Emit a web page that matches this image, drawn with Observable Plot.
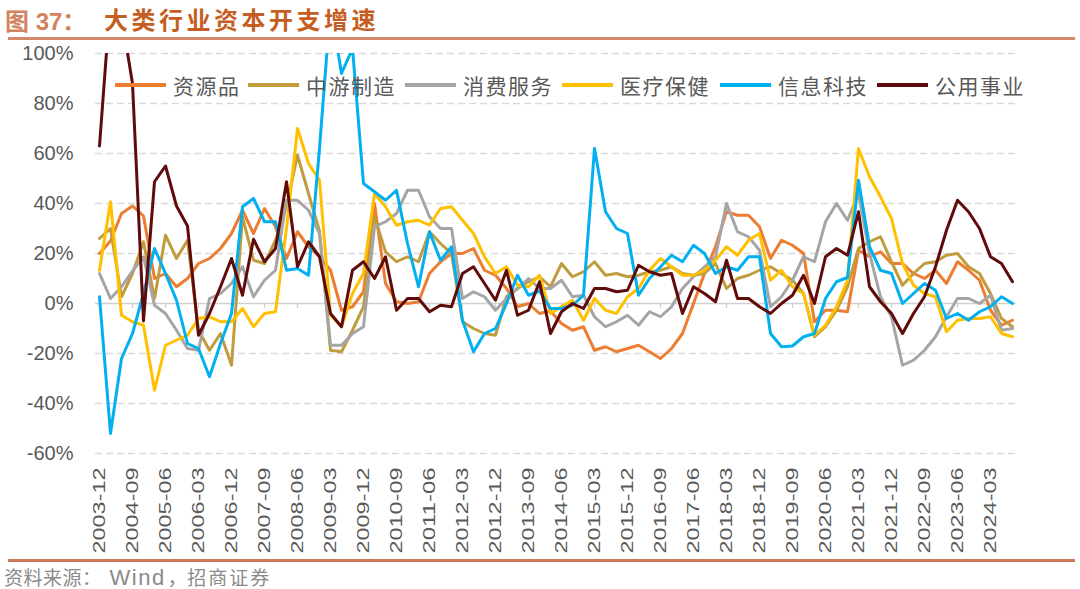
<!DOCTYPE html>
<html>
<head>
<meta charset="utf-8">
<script src="https://cdn.jsdelivr.net/npm/d3@7"></script>
<script src="https://cdn.jsdelivr.net/npm/@observablehq/plot@0.6"></script>
<style>
  body { margin: 0; background: #fff; }
  #wrap { position: relative; width: 1080px; height: 589px; overflow: hidden; background: #fff; }
  #chart { position: absolute; left: 0; top: 0; }
  .title1 { position: absolute; left: 5px; top: 2px; font: bold 24px "Liberation Sans", "Noto Sans CJK SC", sans-serif; color: #D3825E; white-space: nowrap; }
  .title2 { position: absolute; left: 104px; top: 1px; font: bold 24px "Noto Sans CJK SC", sans-serif; letter-spacing: 3.5px; color: #C55E22; white-space: nowrap; }
  .rule-top { position: absolute; left: 8px; top: 37px; width: 1067px; height: 3px; background: #D4876A; }
  .rule-bottom { position: absolute; left: 8px; top: 559px; width: 1067px; height: 3px; background: #CC7A5A; }
  .source { position: absolute; left: 4px; top: 566px; height: 23px; line-height: 22px; font-size: 19px; font-family: "Noto Sans CJK SC", sans-serif; letter-spacing: 0.5px; color: #8A8A8A; white-space: nowrap; }
  .source .w { font-size: 22px; font-family: "Liberation Sans", Arial, sans-serif; letter-spacing: 1.5px; margin: 0 2px 0 8px; }
  .source .z { letter-spacing: 2px; }
  .leg { position: absolute; top: 72px; height: 26px; display: flex; align-items: center; white-space: nowrap; }
  .leg .sw { width: 51px; height: 4px; margin-right: 7px; }
  .leg .tx { font: 21px "Noto Sans CJK SC", sans-serif; letter-spacing: 1.5px; color: #595959; }
</style>
</head>
<body>
<div id="wrap">
  <div class="title1">图 37：</div>
  <div class="title2">大类行业资本开支增速</div>
  <div class="rule-top"></div>
  <div id="chart"></div>
  <div id="legend"></div>
  <div class="rule-bottom"></div>
  <div class="source">资料来源：<span class="w">Wind</span>，<span class="z">招商证券</span></div>
</div>
<script>
const quarters = [
  "2003-12",
  "2004-03","2004-06","2004-09","2004-12",
  "2005-03","2005-06","2005-09","2005-12",
  "2006-03","2006-06","2006-09","2006-12",
  "2007-03","2007-06","2007-09","2007-12",
  "2008-03","2008-06","2008-09","2008-12",
  "2009-03","2009-06","2009-09","2009-12",
  "2010-03","2010-06","2010-09","2010-12",
  "2011-03","2011-06","2011-09","2011-12",
  "2012-03","2012-06","2012-09","2012-12",
  "2013-03","2013-06","2013-09","2013-12",
  "2014-03","2014-06","2014-09","2014-12",
  "2015-03","2015-06","2015-09","2015-12",
  "2016-03","2016-06","2016-09","2016-12",
  "2017-03","2017-06","2017-09","2017-12",
  "2018-03","2018-06","2018-09","2018-12",
  "2019-03","2019-06","2019-09","2019-12",
  "2020-03","2020-06","2020-09","2020-12",
  "2021-03","2021-06","2021-09","2021-12",
  "2022-03","2022-06","2022-09","2022-12",
  "2023-03","2023-06","2023-09","2023-12",
  "2024-03","2024-06","2024-09"
];

const tickLabels = [
  "2003-12","2004-09","2005-06","2006-03","2006-12","2007-09","2008-06",
  "2009-03","2009-12","2010-09","2011-06","2012-03","2012-12","2013-09",
  "2014-06","2015-03","2015-12","2016-09","2017-06","2018-03","2018-12",
  "2019-09","2020-06","2021-03","2021-12","2022-09","2023-06","2024-03"
];

const yTicks = [-60, -40, -20, 0, 20, 40, 60, 80, 100];

const seriesNames = ["资源品", "中游制造", "消费服务", "医疗保健", "信息科技", "公用事业"];
const seriesColors = ["#ED7D31", "#C19C3F", "#A5A5A5", "#FFC000", "#00B0F0", "#600A0A"];

// 资源品
const resources = [
  20, 25, 36, 39, 35, 10, 12, 6.7, 10, 16, 18, 22,
  28, 37.3, 28, 38, 30.7, 18, 28.7, 22.7, 18.7, 13.3, -2.7, -1.3,
  4.7, 40, 8, 0.7, 0, 0.7, 12, 16.7, 20, 20, 22, 13.3,
  11.3, 6, -1.3, 0, -4, -3, -8, -10.7, -9.3, -18.7, -17.3, -19.3,
  -18, -16.7, -19.3, -22, -18, -12, 0, 12, 22.7, 36.7, 35.3, 35.3,
  30.7, 18, 25.3, 23.3, 20, -7.3, -2.7, -2.7, -3.3, 21.3, 18.7, 20.7,
  16, 16, 12, 10, 13.3, 8, 16.7, 13.3, 9.3, -2.7, -8.7, -6.7
];
// 中游制造
const midstream = [
  26, 30, 2.7, 12, 24.7, 2, 27.3, 18, 25.3, -10.7, -18.7, -12,
  -24.7, 34.7, 17.3, 16, 25.3, 38.7, 59.3, 44, 29, -18.7, -19.3, -10.7,
  -1.3, 34.7, 20.7, 16.7, 18.7, 16.7, 28.7, 24, 20, -7.3, -10, -12,
  -12.7, 2.7, 6, 8.7, 10.7, 6.7, 16, 10.7, 12.7, 16.7, 11.3, 12,
  10.7, 11.3, 12.7, 13.3, 14.7, 12, 11.3, 12, 16, 6, 10, 11.3,
  13.3, 14.7, 12, 9.3, 4, -13.3, -9.3, -2.7, 6.7, 22, 24.7, 26.7,
  16.7, 7.3, 12, 16, 16.7, 19.3, 20, 14.7, 12, 4, -6, -9.3
];
// 消费服务
const consumer = [
  12, 2, 6.7, 13, 18.7, -0.7, -4, -10.7, -18, -18.7, 2, 4,
  8, 14.7, 2.7, 9.3, 13.3, 41.3, 41.3, 37.3, 28, -16.7, -16.7, -12,
  -9.3, 30.7, 32.7, 36, 45.3, 45.3, 34.7, 30, 30, 2, 4.7, 2.7,
  -2.7, 2, 6, 10, 6, 6, 9.3, 2.7, 3.3, -5.3, -9.3, -7.3,
  -4.7, -8.7, -3.3, -5.3, -1.3, 6, 10.7, 14.7, 18.7, 40, 28.7, 26.7,
  21.3, -1.3, 2.7, 9.3, 18.7, 16.7, 32.7, 40, 33.3, 44, 20, 2.7,
  -5.3, -24.7, -22.7, -18.7, -13.3, -5.3, 2, 2, 0, 3.3, -10.7, -10
];
// 医疗保健
const healthcare = [
  13.3, 40.7, -4.7, -7.3, -8.7, -34.7, -16.7, -14.7, -12.7, -6, -5.3, -7.3,
  -7.3, -2, -9.3, -4, -3.3, 30, 70, 56, 49.3, -4.7, -9.3, 4,
  12, 44, 38.7, 31.3, 32.7, 33.3, 31.3, 38, 38.7, 33.3, 28, 18.7,
  12, 14.7, 7.3, 6.7, 11.3, -4, -1.3, 1.3, -6.7, 2, -2.7, -4,
  2.7, 6, 13.3, 18, 14.7, 11.3, 11.3, 13.3, 17.3, 22.7, 19.3, 25.3,
  28, 9.3, 13.3, 6.7, 4, -12.7, -8.7, -1.3, 9.3, 62, 50.7, 42.7,
  34, 16, 7.3, 4, 2.7, -11.3, -6.7, -6, -6, -5.3, -12, -13.3
];
// 信息科技
const infotech = [
  2.7, -52, -22, -12, 4, 22, 12, 1.3, -16, -18, -29.3, -16,
  -4, 38.7, 42, 32.7, 32.7, 13.3, 14, 11.3, 62, 119, 92, 102,
  48, 44.7, 41.3, 45.3, 24, 6.7, 28.7, 17.3, 22.7, -6.7, -19.3, -12,
  -10, 0, 11.3, 3.3, 5, -2, -2, -0.7, 3.3, 62, 36.7, 30,
  28, 3.3, 10, 14.7, 19.3, 16.7, 23.3, 20, 12, 14.7, 13.3, 18.7,
  18.7, -12, -17.3, -17, -13.3, -12, 2, 8.7, 10.4, 49.3, 22.7, 13.3,
  12, 0, 4, 8, 5.3, -6, -4, -6.7, -3.3, -1.3, 2.7, 0
];
// 公用事业
const utilities = [
  63, 122, 115, 88, -7, 48.7, 55, 39, 31, -12.7, -4, 6.7,
  18, 3.3, 25.7, 16.7, 22, 48.7, 14.7, 24.7, 18.7, -4, -9.3, 13.3,
  16.7, 10, 18.7, -2.7, 2, 2, -3.3, -0.7, -1.3, 12, 14.7, 8,
  1.3, 13.3, -4.7, -2.7, 8.7, -12, -3.3, 0, -2, 6, 6, 4.7,
  5.3, 15.3, 12.7, 11.3, 12, -4, 6.7, 4, 0.7, 17.3, 2, 2,
  -1.3, -4, 0, 3.3, 11.3, 0, 18.7, 22, 19.3, 36.7, 6.7, 0.7,
  -4, -12, -4, 2.7, 14.7, 29.3, 41.3, 36.7, 30, 18.7, 16, 8.7
];

const seriesValues = [resources, midstream, consumer, healthcare, infotech, utilities];

const data = seriesNames.flatMap((name, k) =>
  seriesValues[k].map((v, i) => ({q: quarters[i], v, s: name}))
);

const gridVals = yTicks.filter(d => d !== 0);

const chart = Plot.plot({
  width: 1080,
  height: 560,
  marginTop: 53,
  marginBottom: 107,
  marginLeft: 95,
  marginRight: 64,
  style: {fontFamily: "'Liberation Sans', Arial, sans-serif", background: "transparent"},
  x: {type: "point", domain: quarters, padding: 0, label: null},
  y: {domain: [-60, 100], label: null},
  color: {domain: seriesNames, range: seriesColors},
  marks: [
    Plot.ruleY(gridVals, {stroke: "#D9D9D9", strokeWidth: 1.6, strokeDasharray: "7,4"}),
    Plot.ruleY([0], {stroke: "#D0D0D0", strokeWidth: 1.6}),
    Plot.ruleX(tickLabels, {x: d => d, y1: 0, y2: -2, stroke: "#D0D0D0", strokeWidth: 1.2}),
    Plot.axisY(yTicks, {label: null, tickSize: 0, tickPadding: 22, tickFormat: d => d + "%", fontSize: 20, fill: "#595959"}),
    Plot.axisX({label: null, ticks: tickLabels, tickSize: 0, tickRotate: -90, tickPadding: 14, fontSize: 17, fill: "#595959"}),
    Plot.line(data, {x: "q", y: "v", z: "s", stroke: "s", strokeWidth: 3, clip: true, strokeLinejoin: "round"})
  ]
});

d3.select(chart).selectAll('g[aria-label="x-axis tick label"] text')
  .attr("textLength", 86)
  .attr("lengthAdjust", "spacingAndGlyphs");

document.getElementById("chart").appendChild(chart);

// legend
const legendX = [115, 248, 405, 562, 720, 877];
const legend = document.getElementById("legend");
seriesNames.forEach((name, k) => {
  const item = document.createElement("div");
  item.className = "leg";
  item.style.left = legendX[k] + "px";
  const sw = document.createElement("div");
  sw.className = "sw";
  sw.style.background = seriesColors[k];
  const tx = document.createElement("span");
  tx.className = "tx";
  tx.textContent = name;
  item.appendChild(sw);
  item.appendChild(tx);
  legend.appendChild(item);
});
</script>
</body>
</html>
